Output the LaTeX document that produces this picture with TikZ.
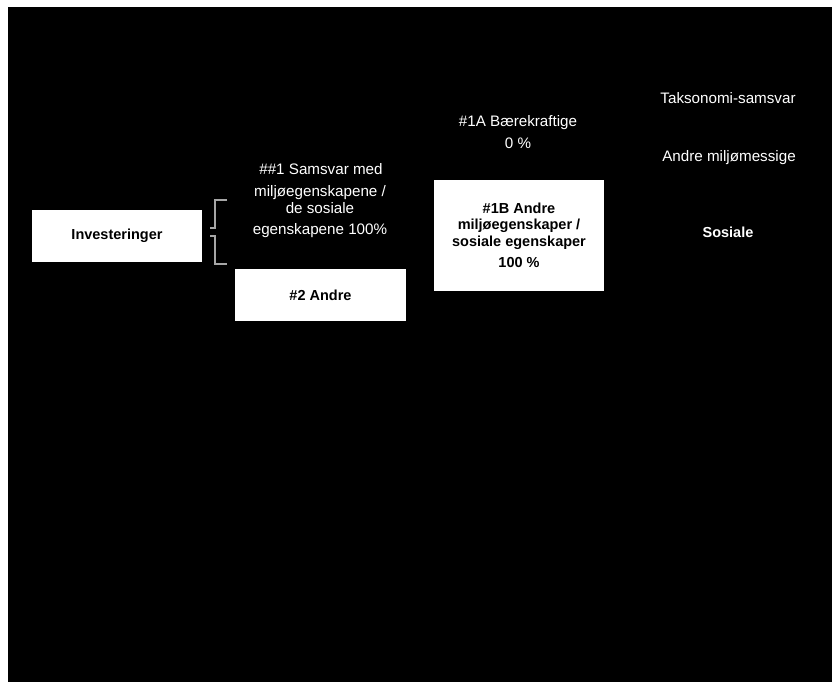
\documentclass[tikz,border=0pt]{standalone}
\usepackage{fontspec}
\setmainfont{Liberation Sans}
\begin{document}
\begin{tikzpicture}[x=1pt,y=-1pt,
  whitebox/.style={draw=none,fill=white,inner sep=0pt,align=center,text=black,
    font=\bfseries\fontsize{14.5}{16.5}\selectfont},
  plain/.style={anchor=base,inner sep=0pt,text=white,font=\fontsize{15.2}{17}\selectfont},
  plainbold/.style={plain,font=\bfseries\fontsize{14.5}{16.5}\selectfont},
  bracketline/.style={draw=black!35,line width=1.3pt}]
\useasboundingbox (0,0) rectangle (832,682);
\fill[white] (0,0) rectangle (832,682);
\fill[black] (8,7) rectangle (832,682);

\node[whitebox,minimum width=170pt,minimum height=52pt] (inv) at (117,236) {Investeringer};
\node[whitebox,minimum width=171pt,minimum height=52pt] (andre) at (320.5,295) {\#2 Andre};
\node[whitebox,minimum width=170pt,minimum height=111pt] (b1B) at (519,235.5) {\#1B Andre\\ miljøegenskaper /\\ sosiale egenskaper\\[5pt] 100 \%};

\node[plain] (s1) at (321,174) {\#\#1 Samsvar med};
\node[plain] (s2) at (320,196) {miljøegenskapene /};
\node[plain] (s3) at (320,213) {de sosiale};
\node[plain] (s4) at (320,234) {egenskapene 100\%};

\node[plain] (a1) at (518,127) {\#1A Bærekraftige};
\node[plain] (a2) at (518,149) {0 \%};

\node[plain] (tax) at (728,104) {Taksonomi-samsvar};
\node[plain] (env) at (729,161) {Andre miljømessige};
\node[plainbold] (soc) at (728,237) {Sosiale};

\coordinate (bt) at (227,200);
\coordinate (bb) at (227,264);
\draw[bracketline] (bt) -- (215,200) -- (215,228) -- (210,228);
\draw[bracketline] (210,236) -- (215,236) -- (215,264) -- (bb);
\end{tikzpicture}
\end{document}
